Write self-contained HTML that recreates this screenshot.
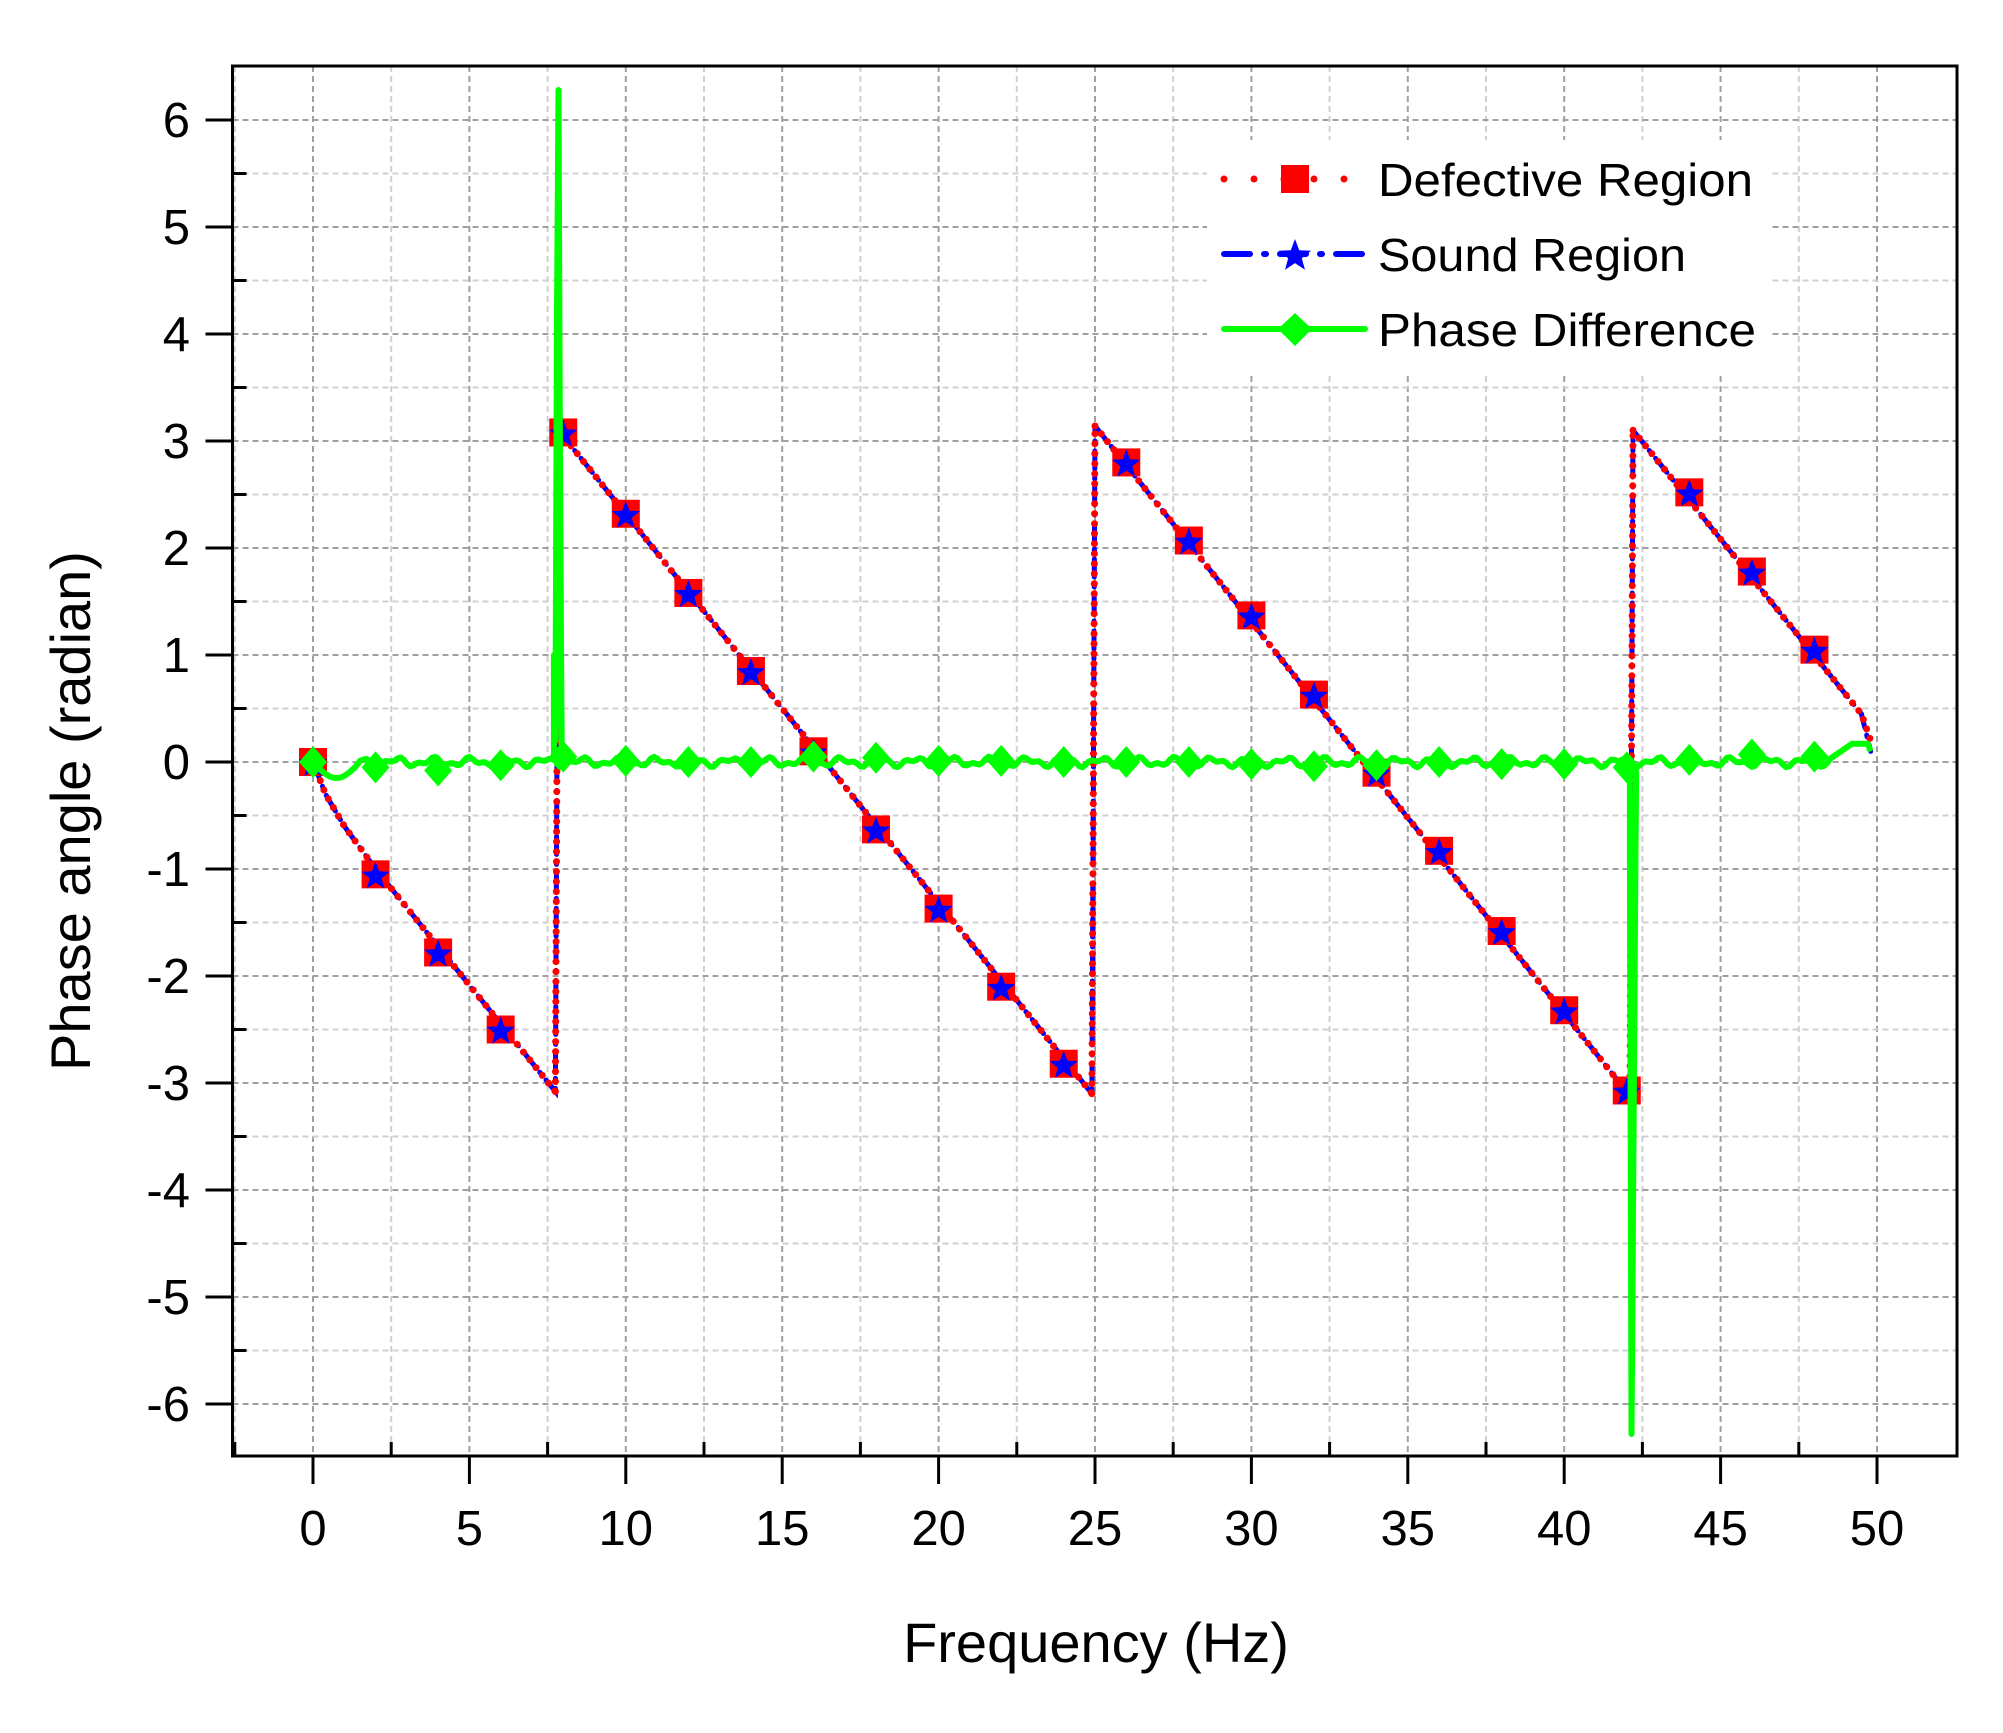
<!DOCTYPE html>
<html><head><meta charset="utf-8"><style>
html,body{margin:0;padding:0;background:#fff;}
svg{display:block;font-family:"Liberation Sans",sans-serif;}
</style></head><body>
<svg id="s" width="2003" height="1733" xmlns="http://www.w3.org/2000/svg">
<rect width="2003" height="1733" fill="#fff"/>
<g id="grid"></g>
<rect x="1207" y="140" width="565" height="234" fill="#fff"/>
<g id="data"></g>
<g id="axes"></g>
<g id="leg">
<line x1="1224" y1="179" x2="1365" y2="179" stroke="#f00" stroke-width="7" stroke-dasharray="0 30" stroke-linecap="round"/>
<rect x="1281" y="165" width="28" height="28" fill="#f00"/>
<text x="1378" y="196" font-size="46" textLength="375" lengthAdjust="spacingAndGlyphs">Defective Region</text>
<line x1="1224" y1="254" x2="1365" y2="254" stroke="#00f" stroke-width="6" stroke-dasharray="26 14 2 14" stroke-linecap="round"/>
<text x="1378" y="271" font-size="46" textLength="308" lengthAdjust="spacingAndGlyphs">Sound Region</text>
<line x1="1224" y1="329" x2="1365" y2="329" stroke="#0f0" stroke-width="6" stroke-linecap="round"/>
<text x="1378" y="346" font-size="46" textLength="378" lengthAdjust="spacingAndGlyphs">Phase Difference</text>
</g>
<text x="1096" y="1662" font-size="56" text-anchor="middle">Frequency (Hz)</text>
<text transform="translate(90,811) rotate(-90)" font-size="56" text-anchor="middle">Phase angle (radian)</text>
</svg>
<script>
const NS="http://www.w3.org/2000/svg";
const L=232.5,R=1957,T=66,B=1456;
const X=f=>313+f*31.28, Y=v=>762-v*107;
function el(p,t,a,txt){const e=document.createElementNS(NS,t);for(const k in a)e.setAttribute(k,a[k]);if(txt!==undefined)e.textContent=txt;p.appendChild(e);return e;}
const g=document.getElementById('grid'),d=document.getElementById('data'),ax=document.getElementById('axes');
for(let f=-2.5;f<=52.5;f+=2.5){const x=X(f);if(x<=L+2||x>=R-2)continue;const maj=Math.abs(f/5-Math.round(f/5))<1e-6;
el(g,'line',{x1:x,y1:T,x2:x,y2:B,stroke:maj?'#a0a0a0':'#d0d0d0','stroke-width':2,'stroke-dasharray':'6 4'});}
for(let v=-6.5;v<=6.5;v+=0.5){const y=Y(v);if(y<=T+2||y>=B-2)continue;const maj=Math.abs(v-Math.round(v))<1e-6;
el(g,'line',{x1:L,y1:y,x2:R,y2:y,stroke:maj?'#a0a0a0':'#d0d0d0','stroke-width':2,'stroke-dasharray':'6 4'});}
const segs=[[0,0,7.75,-3.08],[7.85,3.1,24.9,-3.1],[25.0,3.14,42.1,-3.12],[42.2,3.1,49.8,0.2]];
function path(pts){return pts.map((p,i)=>(i?'L':'M')+p[0].toFixed(1)+' '+p[1].toFixed(1)).join(' ');}
let rp='',bp='';
segs.forEach((s,i)=>{let seg=[[X(s[0]),Y(s[1])],[X(s[2]),Y(s[3])]];
if(i==0)seg=[[X(0),Y(0)],[X(0.4),Y(-0.3)],[X(1),Y(-0.6)],[X(2),Y(-1.0)],[X(7.75),Y(-3.08)]];
if(i==3){seg.pop();seg.push([X(49.5),Y(0.45)],[X(49.8),Y(0.2)]);}
rp+=path(seg)+' ';
if(i<3){const n=segs[i+1];bp+=path(seg.concat([[X(n[0]),Y(n[1])]]))+' ';}
else bp+=path([[X(s[0]),Y(s[1])],[X(49.5),Y(0.45)],[X(49.8),Y(0.1)]]);
});
rp+=path([[X(7.75),Y(-3.08)],[X(7.85),Y(3.1)]])+path([[X(24.9),Y(-3.1)],[X(25),Y(3.14)]])+path([[X(42.1),Y(-3.12)],[X(42.2),Y(3.1)]]);
el(d,'path',{d:bp,fill:'none',stroke:'#00f','stroke-width':5,'stroke-dasharray':'18 8 2 8','stroke-linecap':'round'});
el(d,'path',{d:rp,fill:'none',stroke:'#f00','stroke-width':7,'stroke-dasharray':'0 10','stroke-linecap':'round'});
const mk=[[0,0],[2,-1.05],[4,-1.78],[6,-2.5],[8,3.08],[10,2.32],[12,1.58],[14,0.85],[16,0.1],[18,-0.63],[20,-1.37],[22,-2.1],[24,-2.82],[26,2.8],[28,2.07],[30,1.37],[32,0.63],[34,-0.1],[36,-0.83],[38,-1.58],[40,-2.32],[42,-3.07],[44,2.52],[46,1.78],[48,1.05]];
function star(cx,cy,r){let p=[];for(let i=0;i<10;i++){const a=-Math.PI/2+i*Math.PI/5,rr=i%2?r*0.42:r;p.push((cx+rr*Math.cos(a)).toFixed(1)+','+(cy+rr*Math.sin(a)).toFixed(1));}return p.join(' ');}
mk.forEach(m=>{el(d,'rect',{x:X(m[0])-14,y:Y(m[1])-14,width:28,height:28,fill:'#f00'});});
mk.forEach(m=>{el(d,'polygon',{points:star(X(m[0]),Y(m[1])+2,15),fill:'#00f'});});
let gp=[];
for(let f=0;f<=49.8;f+=0.1){let v=0.03*Math.sin(f*5.3)+0.02*Math.sin(f*11.7);
if(f<1.5)v=-0.15*Math.sin(f/1.5*Math.PI);
if(f>48.5)v=0.03+0.14*Math.min(1,(f-48.5)/0.7);
gp.push([X(f),Y(v)]);
if(Math.abs(f-7.7)<0.05){gp.push([X(7.7),Y(1.0)],[X(7.75),Y(0.2)],[X(7.8),Y(4.2)],[X(7.85),Y(6.28)],[X(7.9),Y(2.5)],[X(7.95),Y(0.1)]);}
if(Math.abs(f-42.1)<0.05){gp.push([X(42.1),Y(-0.9)],[X(42.15),Y(-6.28)],[X(42.25),Y(-2)],[X(42.3),Y(-0.1)]);}
}
gp.push([X(49.8),Y(0.1)]);
el(d,'path',{d:path(gp),fill:'none',stroke:'#0f0','stroke-width':6,'stroke-linejoin':'round'});
const gm=[[0,0],[2,-0.05],[4,-0.08],[6,-0.03],[8,0.05],[10,0.01],[12,0.0],[14,0.0],[16,0.05],[18,0.04],[20,0.01],[22,0.01],[24,0.0],[26,0.0],[28,0.0],[30,-0.02],[32,-0.04],[34,-0.03],[36,0.0],[38,-0.02],[40,-0.02],[42,-0.05],[44,0.02],[46,0.07],[48,0.05]];
gm.forEach(m=>{const x=X(m[0]),y=Y(m[1]);el(d,'polygon',{points:`${x},${y-16} ${x+14},${y} ${x},${y+16} ${x-14},${y}`,fill:'#0f0'});});
el(document.getElementById('leg'),'polygon',{points:star(1295,256,17),fill:'#00f'});
el(document.getElementById('leg'),'polygon',{points:`1295,313 1312,329 1295,346 1278,329`,fill:'#0f0'});
el(ax,'rect',{x:L,y:T,width:R-L,height:B-T,fill:'none',stroke:'#000','stroke-width':3});
for(let f=-2.5;f<=52.5;f+=2.5){const x=X(f);if(x<=L+2||x>=R-2)continue;const maj=Math.abs(f/5-Math.round(f/5))<1e-6;
if(maj){el(ax,'line',{x1:x,y1:B,x2:x,y2:B+28,stroke:'#000','stroke-width':3});el(ax,'text',{x:x,y:1545,'font-size':49,'text-anchor':'middle'},String(Math.round(f)));}
else el(ax,'line',{x1:x,y1:B,x2:x,y2:B-14,stroke:'#000','stroke-width':3});}
for(let v=-6.5;v<=6.5;v+=0.5){const y=Y(v);if(y<=T+2||y>=B-2)continue;const maj=Math.abs(v-Math.round(v))<1e-6;
if(maj){el(ax,'line',{x1:L-27,y1:y,x2:L,y2:y,stroke:'#000','stroke-width':3});el(ax,'text',{x:190,y:y+17,'font-size':49,'text-anchor':'end'},String(Math.round(v)));}
else el(ax,'line',{x1:L,y1:y,x2:L+14,y2:y,stroke:'#000','stroke-width':3});}
</script>
</body></html>
